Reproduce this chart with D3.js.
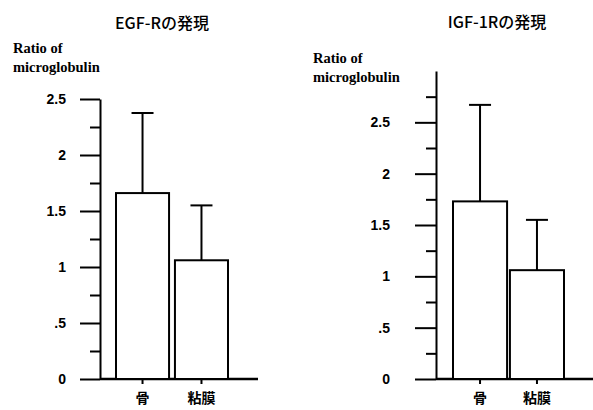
<!DOCTYPE html>
<html>
<head>
<meta charset="utf-8">
<script src="https://cdn.jsdelivr.net/npm/d3@7"></script>
<style>
  body { margin: 0; background: #fff; }
  svg { display: block; }
  .title { font-family: "Noto Sans CJK JP", sans-serif; font-size: 16px; font-weight: 500; }
  .tick text { font-family: "Liberation Sans", Arial, sans-serif; font-size: 14px; font-weight: bold; }
  .xaxis .tick text { font-family: "Noto Sans CJK JP", sans-serif; font-size: 14px; font-weight: bold; }
</style>
</head>
<body>
<svg width="593" height="410"></svg>
<script>
const categories = ['骨', '粘膜'];

// EGF-R panel
const egfMeans = [1.66, 1.06];
const egfUpper = [2.375, 1.55];
const egfTicks = [0, 0.5, 1, 1.5, 2, 2.5];
const egfMinor = [0.25, 0.75, 1.25, 1.75, 2.25];

// IGF-1R panel
const igfMeans = [1.73, 1.06];
const igfUpper = [2.67, 1.55];
const igfTicks = [0, 0.5, 1, 1.5, 2, 2.5];
const igfMinor = [0.25, 0.75, 1.25, 1.75, 2.25, 2.75];

const tickLabel = d => d === 0 ? '0' : (d < 1 ? '.5' : String(d));

const svg = d3.select('svg');

function drawPanel(opt) {
  const g = svg.append('g');

  const y = d3.scaleLinear().domain([0, opt.yMax]).range([379, opt.yTop]);
  const x = d3.scaleBand().domain(categories).range(opt.xRange).paddingInner(opt.pad);

  g.append('text').attr('class', 'title')
    .attr('x', opt.titleX).attr('y', opt.titleY)
    .attr('text-anchor', 'middle')
    .text(opt.title);

  ['Ratio of', 'microglobulin'].forEach((t, i) => {
    g.append('text')
      .attr('x', opt.labX).attr('y', opt.labY + i * 19)
      .style('font-family', "'Liberation Serif', 'DejaVu Serif', serif")
      .style('font-weight', 'bold')
      .style('font-size', '14.5px')
      .text(t);
  });

  // minor ticks
  g.append('g')
    .attr('transform', `translate(${opt.axisX},0)`)
    .call(d3.axisLeft(y).tickValues(opt.minor).tickSize(10).tickFormat(''))
    .call(a => a.select('.domain').remove())
    .selectAll('line').attr('stroke', '#000').attr('stroke-width', 2);

  // major ticks + axis line
  const ya = g.append('g')
    .attr('transform', `translate(${opt.axisX},0)`)
    .call(d3.axisLeft(y).tickValues(opt.ticks).tickSize(opt.major)
      .tickSizeOuter(0).tickPadding(opt.labPad).tickFormat(tickLabel));
  ya.select('.domain').attr('stroke', '#000').attr('stroke-width', 2);
  ya.selectAll('.tick line').attr('stroke', '#000').attr('stroke-width', 2);
  ya.selectAll('.tick text').attr('fill', '#000');

  // baseline extending right
  g.append('line')
    .attr('x1', opt.axisX).attr('x2', opt.baseEnd)
    .attr('y1', y(0)).attr('y2', y(0))
    .attr('stroke', '#000').attr('stroke-width', 2.5);

  // error bars
  const err = g.selectAll('.err').data(categories).enter().append('g');
  err.append('line')
    .attr('x1', d => x(d) + x.bandwidth() / 2)
    .attr('x2', d => x(d) + x.bandwidth() / 2)
    .attr('y1', (d, i) => y(opt.means[i]))
    .attr('y2', (d, i) => y(opt.upper[i]))
    .attr('stroke', '#000').attr('stroke-width', 2);
  err.append('line')
    .attr('x1', d => x(d) + x.bandwidth() / 2 - 11)
    .attr('x2', d => x(d) + x.bandwidth() / 2 + 11)
    .attr('y1', (d, i) => y(opt.upper[i]))
    .attr('y2', (d, i) => y(opt.upper[i]))
    .attr('stroke', '#000').attr('stroke-width', 2);

  // bars
  g.selectAll('.bar').data(categories).enter().append('rect')
    .attr('x', d => x(d))
    .attr('width', x.bandwidth())
    .attr('y', (d, i) => y(opt.means[i]))
    .attr('height', (d, i) => y(0) - y(opt.means[i]))
    .attr('fill', '#fff').attr('stroke', '#000').attr('stroke-width', 2);

  // category axis
  const xa = g.append('g').attr('class', 'xaxis')
    .attr('transform', `translate(0,${y(0)})`)
    .call(d3.axisBottom(x).tickSize(5).tickPadding(9));
  xa.select('.domain').remove();
  xa.selectAll('line').attr('stroke', '#000').attr('stroke-width', 2);
  xa.selectAll('text').attr('fill', '#000');
}

drawPanel({
  title: 'EGF-Rの発現', titleX: 162, titleY: 29,
  labX: 13, labY: 53,
  means: egfMeans, upper: egfUpper, ticks: egfTicks, minor: egfMinor,
  yMax: 2.5, yTop: 99, axisX: 100, major: 20, labPad: 14,
  xRange: [116, 228], pad: 0.1, baseEnd: 258
});

drawPanel({
  title: 'IGF-1Rの発現', titleX: 497, titleY: 28,
  labX: 313, labY: 63,
  means: igfMeans, upper: igfUpper, ticks: igfTicks, minor: igfMinor,
  yMax: 3, yTop: 71, axisX: 436, major: 21, labPad: 25,
  xRange: [453, 564], pad: 0.05, baseEnd: 593
});
</script>
</body>
</html>
